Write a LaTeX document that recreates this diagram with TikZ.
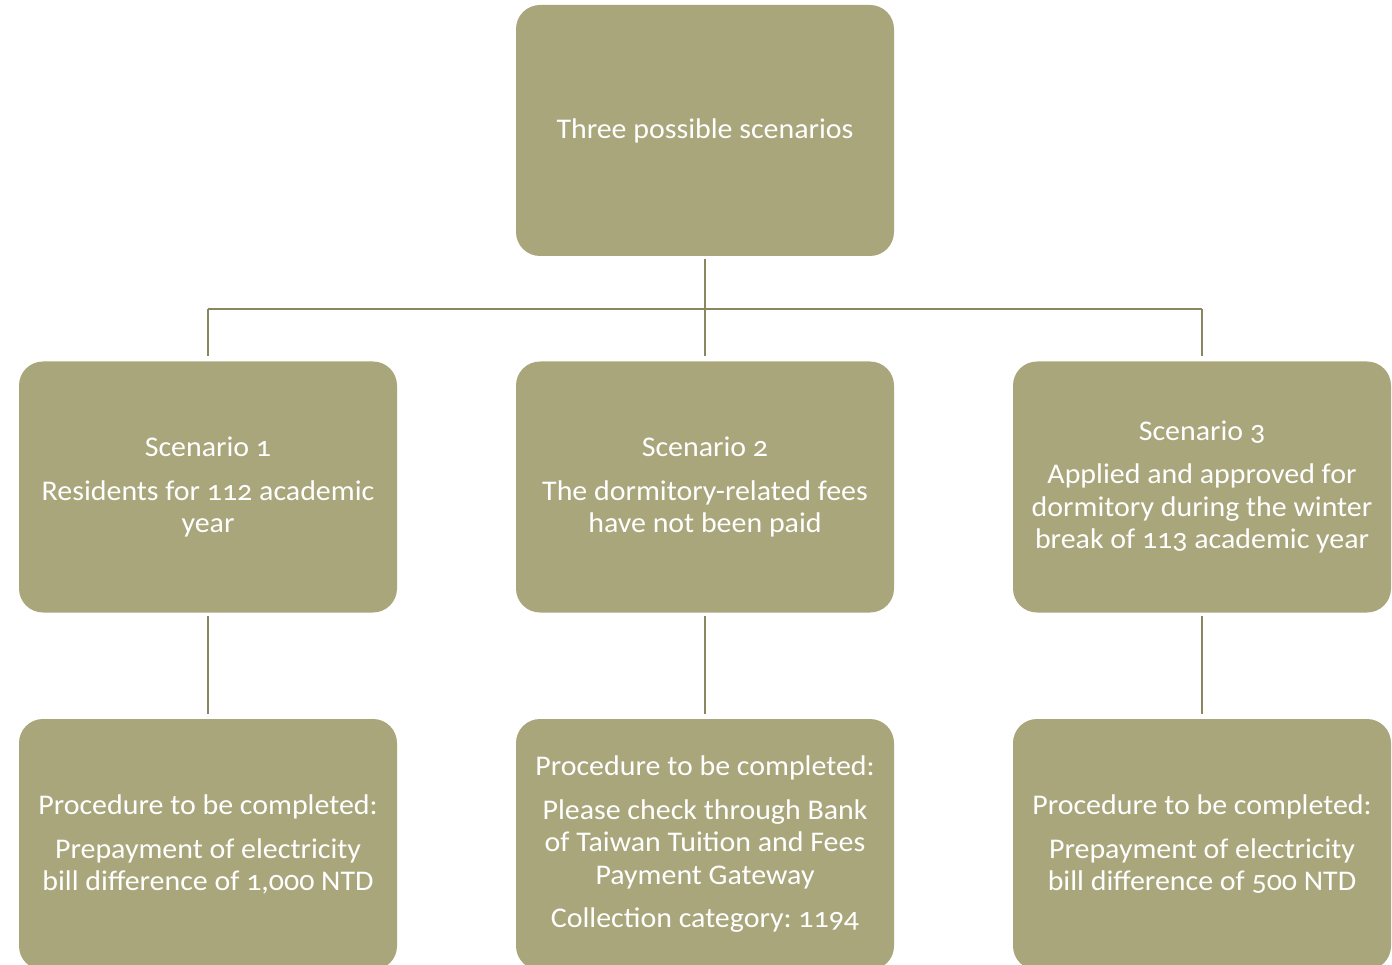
\documentclass[tikz,border=0pt]{standalone}
\usepackage{fontspec}
\setmainfont{Carlito}[Numbers=OldStyle, FakeStretch=1.05]
\definecolor{boxfill}{RGB}{169,166,124}
\definecolor{linecol}{RGB}{138,134,96}
\frenchspacing
\begin{document}
\begin{tikzpicture}[x=1pt,y=-1pt,
  box/.style={fill=boxfill, rounded corners=24pt, minimum width=378pt, minimum height=251pt,
    text=white, align=center, font=\fontsize{28.5}{32.5}\selectfont, inner sep=0pt},
  conn/.style={draw=linecol, line width=1.8pt}]
\useasboundingbox (0,0) rectangle (1392,965);
\clip (0,0) rectangle (1392,965);
\node[box] (top) at (705,130.5) {Three possible scenarios};
\node[box] (s1) at (208,487) {Scenario 1\\[11pt]Residents for 112 academic\\year};
\node[box] (s2) at (705,487) {Scenario 2\\[11pt]The dormitory-related fees\\have not been paid};
\node[box] (s3) at (1202,487) {Scenario 3\\[11pt]Applied and approved for\\dormitory during the winter\\break of 113 academic year};
\node[box] (p1) at (208,844.5) {Procedure to be completed:\\[11pt]Prepayment of electricity\\bill difference of 1,000 NTD};
\node[box] (p2) at (705,844.5) {Procedure to be completed:\\[11pt]Please check through Bank\\of Taiwan Tuition and Fees\\Payment Gateway\\[11pt]Collection category: 1194};
\node[box] (p3) at (1202,844.5) {Procedure to be completed:\\[11pt]Prepayment of electricity\\bill difference of 500 NTD};
\coordinate (bus) at (705,309);
\draw[conn, shorten <=3pt, shorten >=5pt] (top.south) -- (s2.north);
\draw[conn] (s1.north |- bus) -- (s3.north |- bus);
\draw[conn, shorten >=5pt] (s1.north |- bus) -- (s1.north);
\draw[conn, shorten >=5pt] (s3.north |- bus) -- (s3.north);
\draw[conn, shorten <=3pt, shorten >=5pt] (s1.south) -- (p1.north);
\draw[conn, shorten <=3pt, shorten >=5pt] (s2.south) -- (p2.north);
\draw[conn, shorten <=3pt, shorten >=5pt] (s3.south) -- (p3.north);
\end{tikzpicture}
\end{document}
